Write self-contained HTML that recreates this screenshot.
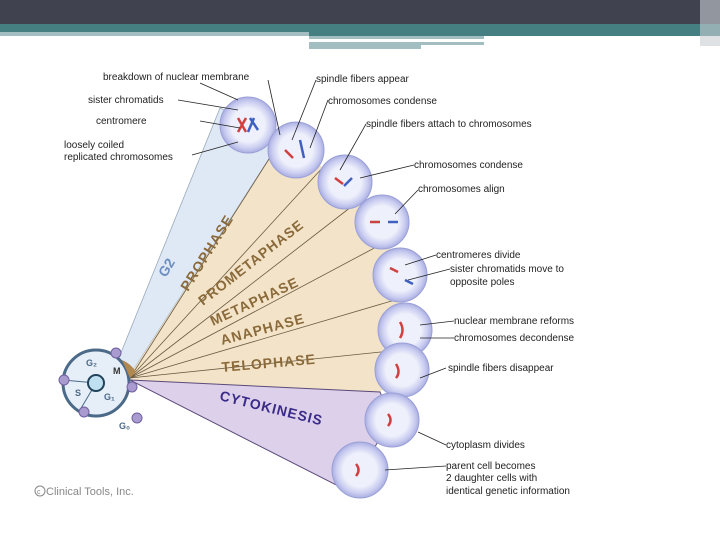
<!DOCTYPE html>
<html><head><style>
body{margin:0;width:720px;height:540px;overflow:hidden;background:#fff;font-family:"Liberation Sans",sans-serif}
</style></head><body>
<svg width="720" height="540" viewBox="0 0 720 540" xmlns="http://www.w3.org/2000/svg" font-family="Liberation Sans, sans-serif">
<defs>
<radialGradient id="cg" cx="50%" cy="50%" r="50%"><stop offset="0.6" stop-color="#eef0fb"/><stop offset="0.85" stop-color="#c9ccf0"/><stop offset="1" stop-color="#a9aee0"/></radialGradient>
</defs>
<rect x="0" y="0" width="720" height="24" fill="#41424f"/>
<rect x="0" y="24" width="720" height="8" fill="#457f82"/>
<rect x="0" y="32" width="309" height="4" fill="#a3bec0"/>
<rect x="309" y="32" width="411" height="4" fill="#457f82"/>
<rect x="309" y="36" width="175" height="3" fill="#a3bec0"/>
<rect x="309" y="42" width="175" height="3" fill="#a3bec0"/>
<rect x="309" y="45" width="112" height="4" fill="#a3bec0"/>
<rect x="700" y="0" width="20" height="46" fill="#c8cfd4" opacity="0.6"/>
<polygon points="118,360 220,108 283,137 132,372" fill="#dfe8f5" stroke="#9ab" stroke-width="0.8"/>
<polygon points="132,372 283,137 296,150 345,182 382,222 400,275 405,330 402,370 380,392 130,380" fill="#f3e4c9"/>
<polygon points="130,380 380,392 392,420 360,470 350,492" fill="#dcd0ea" stroke="#5a4a7a" stroke-width="1"/>
<g stroke="#6a5a40" stroke-width="0.8">
<line x1="130" y1="378" x2="283" y2="137"/><line x1="130" y1="378" x2="325" y2="165"/>
<line x1="130" y1="378" x2="360" y2="200"/><line x1="130" y1="378" x2="380" y2="245"/>
<line x1="130" y1="378" x2="395" y2="300"/><line x1="130" y1="378" x2="400" y2="350"/>
</g>
<g font-weight="bold" fill="#8a6a3a" font-size="14" letter-spacing="1">
<text transform="translate(188,292) rotate(-58)">PROPHASE</text>
<text transform="translate(203,306) rotate(-38)">PROMETAPHASE</text>
<text transform="translate(213,326) rotate(-25)">METAPHASE</text>
<text transform="translate(222,345) rotate(-15)">ANAPHASE</text>
<text transform="translate(222,372) rotate(-5)">TELOPHASE</text>
</g>
<text transform="translate(219,400) rotate(14)" font-weight="bold" fill="#3a2a8a" font-size="14" letter-spacing="1">CYTOKINESIS</text>
<text transform="translate(166,278) rotate(-60)" font-weight="bold" fill="#6d8fc0" font-size="14">G2</text>
<circle cx="96" cy="383" r="33" fill="#e6eef8" stroke="#4b6a88" stroke-width="3"/>
<path d="M130,378 L122,360 A30,30 0 0 1 136,372 Z" fill="#b08850"/>
<line x1="96" y1="383" x2="63" y2="380" stroke="#4b6a88"/><line x1="96" y1="383" x2="80" y2="410" stroke="#4b6a88"/>
<circle cx="96" cy="383" r="8" fill="#bfe0f0" stroke="#22445a" stroke-width="2"/>
<g fill="#a99ad0" stroke="#7060a0"><circle cx="116" cy="353" r="5"/><circle cx="64" cy="380" r="5"/><circle cx="84" cy="412" r="5"/><circle cx="132" cy="387" r="5"/><circle cx="137" cy="418" r="5"/></g>
<g font-size="9" font-weight="bold" fill="#4b6a88"><text x="86" y="366">G₂</text><text x="75" y="396">S</text><text x="104" y="400">G₁</text><text x="119" y="429">G₀</text><text x="113" y="374" fill="#333">M</text></g>
<g fill="url(#cg)" stroke="#9aa0d8">
<circle cx="248" cy="125" r="28"/><circle cx="296" cy="150" r="28"/><circle cx="345" cy="182" r="27"/>
<circle cx="382" cy="222" r="27"/><circle cx="400" cy="275" r="27"/><circle cx="405" cy="330" r="27"/>
<circle cx="402" cy="370" r="27"/><circle cx="392" cy="420" r="27"/><circle cx="360" cy="470" r="28"/>
</g>
<g stroke="#d04040" stroke-width="2.5" fill="none">
<path d="M238,118 l8,14 M246,118 l-8,14"/><path d="M285,150 l8,8"/><path d="M335,178 l8,6"/><path d="M370,222 h10"/><path d="M390,268 l8,4"/><path d="M400,322 q5,8 0,16"/><path d="M396,364 q5,8 0,14"/><path d="M388,414 q5,6 0,12"/><path d="M356,464 q5,6 0,12"/>
</g>
<g stroke="#4060c0" stroke-width="2.5" fill="none">
<path d="M254,118 l-6,14 M250,118 l8,12"/><path d="M300,140 l4,18"/><path d="M352,178 l-8,8"/><path d="M388,222 h10"/><path d="M405,280 l8,4"/>
</g>
<g font-size="10" fill="#222">
<text x="103" y="80">breakdown of nuclear membrane</text>
<text x="316" y="82">spindle fibers appear</text>
<text x="88" y="103">sister chromatids</text>
<text x="328" y="104">chromosomes condense</text>
<text x="96" y="124">centromere</text>
<text x="366" y="127">spindle fibers attach to chromosomes</text>
<text x="64" y="148">loosely coiled</text>
<text x="64" y="160">replicated chromosomes</text>
<text x="414" y="168">chromosomes condense</text>
<text x="418" y="192">chromosomes align</text>
<text x="436" y="258">centromeres divide</text>
<text x="450" y="272">sister chromatids move to</text>
<text x="450" y="285">opposite poles</text>
<text x="454" y="324">nuclear membrane reforms</text>
<text x="454" y="341">chromosomes decondense</text>
<text x="448" y="371">spindle fibers disappear</text>
<text x="446" y="448">cytoplasm divides</text>
<text x="446" y="469">parent cell becomes</text>
<text x="446" y="481">2 daughter cells with</text>
<text x="446" y="494">identical genetic information</text>
</g>
<g stroke="#222" stroke-width="0.8" fill="none">
<line x1="200" y1="83" x2="238" y2="100"/><line x1="178" y1="100" x2="238" y2="110"/><line x1="200" y1="121" x2="240" y2="128"/><line x1="192" y1="155" x2="238" y2="142"/>
<line x1="268" y1="80" x2="280" y2="135"/><line x1="316" y1="80" x2="292" y2="140"/><line x1="328" y1="100" x2="310" y2="148"/>
<line x1="366" y1="124" x2="340" y2="170"/><line x1="414" y1="165" x2="360" y2="178"/><line x1="418" y1="190" x2="395" y2="214"/>
<line x1="436" y1="255" x2="405" y2="265"/><line x1="450" y1="269" x2="408" y2="280"/><line x1="454" y1="321" x2="420" y2="325"/><line x1="454" y1="338" x2="420" y2="338"/>
<line x1="446" y1="368" x2="420" y2="378"/><line x1="446" y1="445" x2="418" y2="432"/><line x1="446" y1="466" x2="385" y2="470"/>
</g>
<circle cx="40" cy="491" r="5" fill="none" stroke="#888"/><text x="37" y="494" font-size="7" fill="#888">c</text>
<text x="46" y="495" font-size="11" fill="#888">Clinical Tools, Inc.</text>
</svg>
</body></html>
